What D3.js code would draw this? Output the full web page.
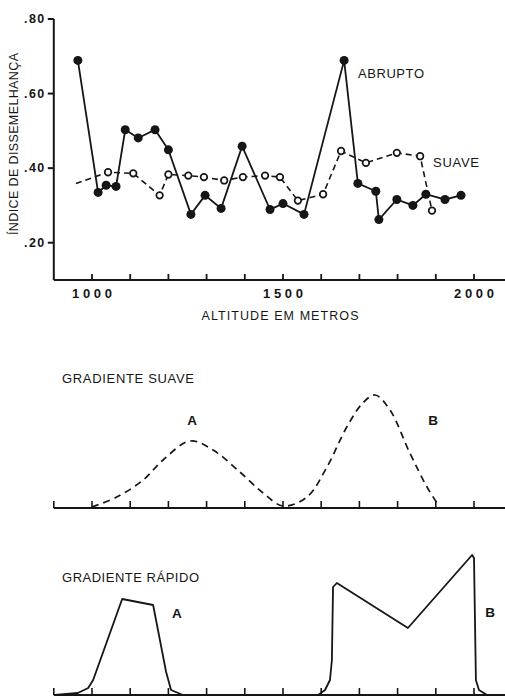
<!DOCTYPE html>
<html>
<head>
<meta charset="utf-8">
<script src="https://cdn.jsdelivr.net/npm/d3@7"></script>
<style>
  body { margin: 0; background: #fff; }
  svg { display: block; font-family: "Liberation Sans", Arial, sans-serif; }
  text { fill: #161616; }
</style>
</head>
<body>
<svg id="chart" width="505" height="697"></svg>
<script>
// top chart: indice de dissemelhanca vs altitude
var abruptoAlt = [963, 1016, 1037, 1063, 1087, 1121, 1165, 1200, 1259, 1296, 1338, 1393, 1466, 1500, 1555, 1660, 1696, 1743, 1751, 1798, 1840, 1874, 1924, 1966]
var abruptoVal = [0.689, 0.335, 0.354, 0.351, 0.503, 0.481, 0.503, 0.449, 0.276, 0.327, 0.292, 0.459, 0.289, 0.305, 0.276, 0.689, 0.359, 0.338, 0.262, 0.316, 0.300, 0.330, 0.316, 0.327]
var suaveAlt = [958, 1042, 1108, 1177, 1200, 1252, 1293, 1346, 1395, 1453, 1492, 1539, 1605, 1652, 1717, 1798, 1859, 1890]
var suaveVal = [0.359, 0.389, 0.386, 0.327, 0.383, 0.380, 0.376, 0.367, 0.376, 0.380, 0.376, 0.313, 0.330, 0.446, 0.414, 0.441, 0.432, 0.286]
var yTicks = [0.2, 0.4, 0.6, 0.8]
var xTicks = d3.range(900, 2001, 100)
var xLabels = [1000, 1500, 2000]

// lower panels: schematic distributions of species A and B
var gradSuaveAlt = [1000, 1065, 1134, 1186, 1257, 1317, 1387, 1448, 1500, 1563, 1615, 1667, 1709, 1741, 1780, 1832, 1877, 1903]
var gradSuaveVal = [1, 11, 28, 48, 67, 58, 36, 15, 2, 11, 41, 81, 105, 113, 98, 55, 21, 5]
var rapidoAAlt = [903, 963, 990, 1003, 1079, 1160, 1194, 1207, 1238]
var rapidoAVal = [0, 2, 7, 15, 96, 90, 23, 5, 0]
var rapidoBAlt = [1592, 1610, 1623, 1628, 1631, 1641, 1827, 1995, 2000, 2005, 2013, 2034]
var rapidoBVal = [0, 5, 15, 35, 108, 112, 67, 140, 137, 15, 5, 0]

var svg = d3.select('#chart')
var ink = '#161616'

var x = d3.scaleLinear().domain([1000, 2000]).range([92, 474])
var y = d3.scaleLinear().domain([0.1, 0.8]).range([280, 19])

// ---- top chart axes
var main = svg.append('g')

main.append('line')
   .attr('x1', x(900)).attr('x2', 505)
   .attr('y1', y(0.1)).attr('y2', y(0.1))
   .attr('stroke', ink).attr('stroke-width', 2)
main.append('line')
   .attr('x1', x(900)).attr('x2', x(900))
   .attr('y1', y(0.1)).attr('y2', y(0.8))
   .attr('stroke', ink).attr('stroke-width', 2)

main.selectAll('line.ytick')
   .data(yTicks)
   .enter()
   .append('line')
   .attr('class', 'ytick')
   .attr('x1', x(900) - 6).attr('x2', x(900))
   .attr('y1', d => y(d)).attr('y2', d => y(d))
   .attr('stroke', ink).attr('stroke-width', 2)

main.selectAll('text.ytick')
   .data(yTicks)
   .enter()
   .append('text')
   .attr('class', 'ytick')
   .attr('x', x(900) - 8)
   .attr('y', d => y(d) + 4)
   .attr('text-anchor', 'end')
   .attr('font-size', 12.5)
   .attr('font-weight', 'bold')
   .attr('letter-spacing', 1.5)
   .text(d => d3.format('.2f')(d).slice(1))

main.selectAll('line.xtick')
   .data(xTicks.slice(1))
   .enter()
   .append('line')
   .attr('class', 'xtick')
   .attr('x1', d => x(d)).attr('x2', d => x(d))
   .attr('y1', y(0.1)).attr('y2', y(0.1) - 6)
   .attr('stroke', ink).attr('stroke-width', 1.8)

main.selectAll('text.xtick')
   .data(xLabels)
   .enter()
   .append('text')
   .attr('class', 'xtick')
   .attr('x', d => x(d))
   .attr('y', 298)
   .attr('text-anchor', 'middle')
   .attr('font-size', 13)
   .attr('font-weight', 'bold')
   .attr('textLength', 40)
   .attr('lengthAdjust', 'spacing')
   .text(d => d)

main.append('text')
   .attr('x', 280).attr('y', 320)
   .attr('text-anchor', 'middle')
   .attr('font-size', 12.5)
   .attr('textLength', 157).attr('lengthAdjust', 'spacing')
   .text('ALTITUDE EM METROS')

main.append('text')
   .attr('transform', 'translate(18,144) rotate(-90)')
   .attr('text-anchor', 'middle')
   .attr('font-size', 12.5)
   .attr('textLength', 182).attr('lengthAdjust', 'spacing')
   .text('ÍNDICE DE DISSEMELHANÇA')

// ---- series
var suave = suaveAlt.map((a, i) => [a, suaveVal[i]])
var abrupto = abruptoAlt.map((a, i) => [a, abruptoVal[i]])

main.append('path')
   .datum(suave)
   .attr('fill', 'none')
   .attr('stroke', ink)
   .attr('stroke-width', 1.6)
   .attr('stroke-dasharray', '6,4')
   .attr('d', d3.line().x(d => x(d[0])).y(d => y(d[1])))

main.append('path')
   .datum(abrupto)
   .attr('fill', 'none')
   .attr('stroke', ink)
   .attr('stroke-width', 1.8)
   .attr('d', d3.line().x(d => x(d[0])).y(d => y(d[1])))

main.selectAll('circle.suave')
   .data(suave.slice(1))
   .enter()
   .append('circle')
   .attr('class', 'suave')
   .attr('cx', d => x(d[0])).attr('cy', d => y(d[1]))
   .attr('r', 3.3)
   .attr('fill', '#fff')
   .attr('stroke', ink)
   .attr('stroke-width', 1.7)

main.selectAll('circle.abrupto')
   .data(abrupto)
   .enter()
   .append('circle')
   .attr('class', 'abrupto')
   .attr('cx', d => x(d[0])).attr('cy', d => y(d[1]))
   .attr('r', 4.5)
   .attr('fill', ink)

main.append('text')
   .attr('x', 358).attr('y', 78)
   .attr('font-size', 13)
   .attr('textLength', 66).attr('lengthAdjust', 'spacing')
   .text('ABRUPTO')

main.append('text')
   .attr('x', 433).attr('y', 167)
   .attr('font-size', 13)
   .attr('textLength', 46).attr('lengthAdjust', 'spacing')
   .text('SUAVE')

// ---- lower panels
var drawPanel = function (base, hmax, title, titleY, titleLen) {
  var g = svg.append('g')
  var py = d3.scaleLinear().domain([0, hmax]).range([base, base - hmax])

  g.append('line')
   .attr('x1', x(900)).attr('x2', 505)
   .attr('y1', base).attr('y2', base)
   .attr('stroke', ink).attr('stroke-width', 2)

  g.selectAll('line.tick')
   .data(xTicks)
   .enter()
   .append('line')
   .attr('class', 'tick')
   .attr('x1', d => x(d)).attr('x2', d => x(d))
   .attr('y1', base).attr('y2', base - 7)
   .attr('stroke', ink).attr('stroke-width', 1.6)

  g.append('text')
   .attr('x', 62).attr('y', titleY)
   .attr('font-size', 13)
   .attr('textLength', titleLen).attr('lengthAdjust', 'spacing')
   .text(title)

  return { g: g, py: py }
}

var pS = drawPanel(508, 120, 'GRADIENTE SUAVE', 383, 132)
pS.g.append('path')
    .datum(gradSuaveAlt.map((a, i) => [a, gradSuaveVal[i]]))
    .attr('fill', 'none')
    .attr('stroke', ink)
    .attr('stroke-width', 1.7)
    .attr('stroke-dasharray', '7,5')
    .attr('d', d3.line().curve(d3.curveCatmullRom).x(d => x(d[0])).y(d => pS.py(d[1])))

pS.g.append('text').attr('x', x(1262)).attr('y', pS.py(88) + 5)
    .attr('text-anchor', 'middle').attr('font-size', 13.5).attr('font-weight', 'bold').text('A')
pS.g.append('text').attr('x', x(1893)).attr('y', pS.py(88) + 5)
    .attr('text-anchor', 'middle').attr('font-size', 13.5).attr('font-weight', 'bold').text('B')

var pR = drawPanel(695, 140, 'GRADIENTE RÁPIDO', 582, 137)
var lineR = d3.line().x(d => x(d[0])).y(d => pR.py(d[1]))
pR.g.append('path')
    .datum(rapidoAAlt.map((a, i) => [a, rapidoAVal[i]]))
    .attr('fill', 'none').attr('stroke', ink).attr('stroke-width', 1.8)
    .attr('stroke-linejoin', 'round')
    .attr('d', lineR)
pR.g.append('path')
    .datum(rapidoBAlt.map((a, i) => [a, rapidoBVal[i]]))
    .attr('fill', 'none').attr('stroke', ink).attr('stroke-width', 1.8)
    .attr('stroke-linejoin', 'round')
    .attr('d', lineR)

pR.g.append('text').attr('x', x(1222)).attr('y', pR.py(82) + 5)
    .attr('text-anchor', 'middle').attr('font-size', 13.5).attr('font-weight', 'bold').text('A')
pR.g.append('text').attr('x', x(2042)).attr('y', pR.py(83) + 5)
    .attr('text-anchor', 'middle').attr('font-size', 13.5).attr('font-weight', 'bold').text('B')
</script>
</body>
</html>
